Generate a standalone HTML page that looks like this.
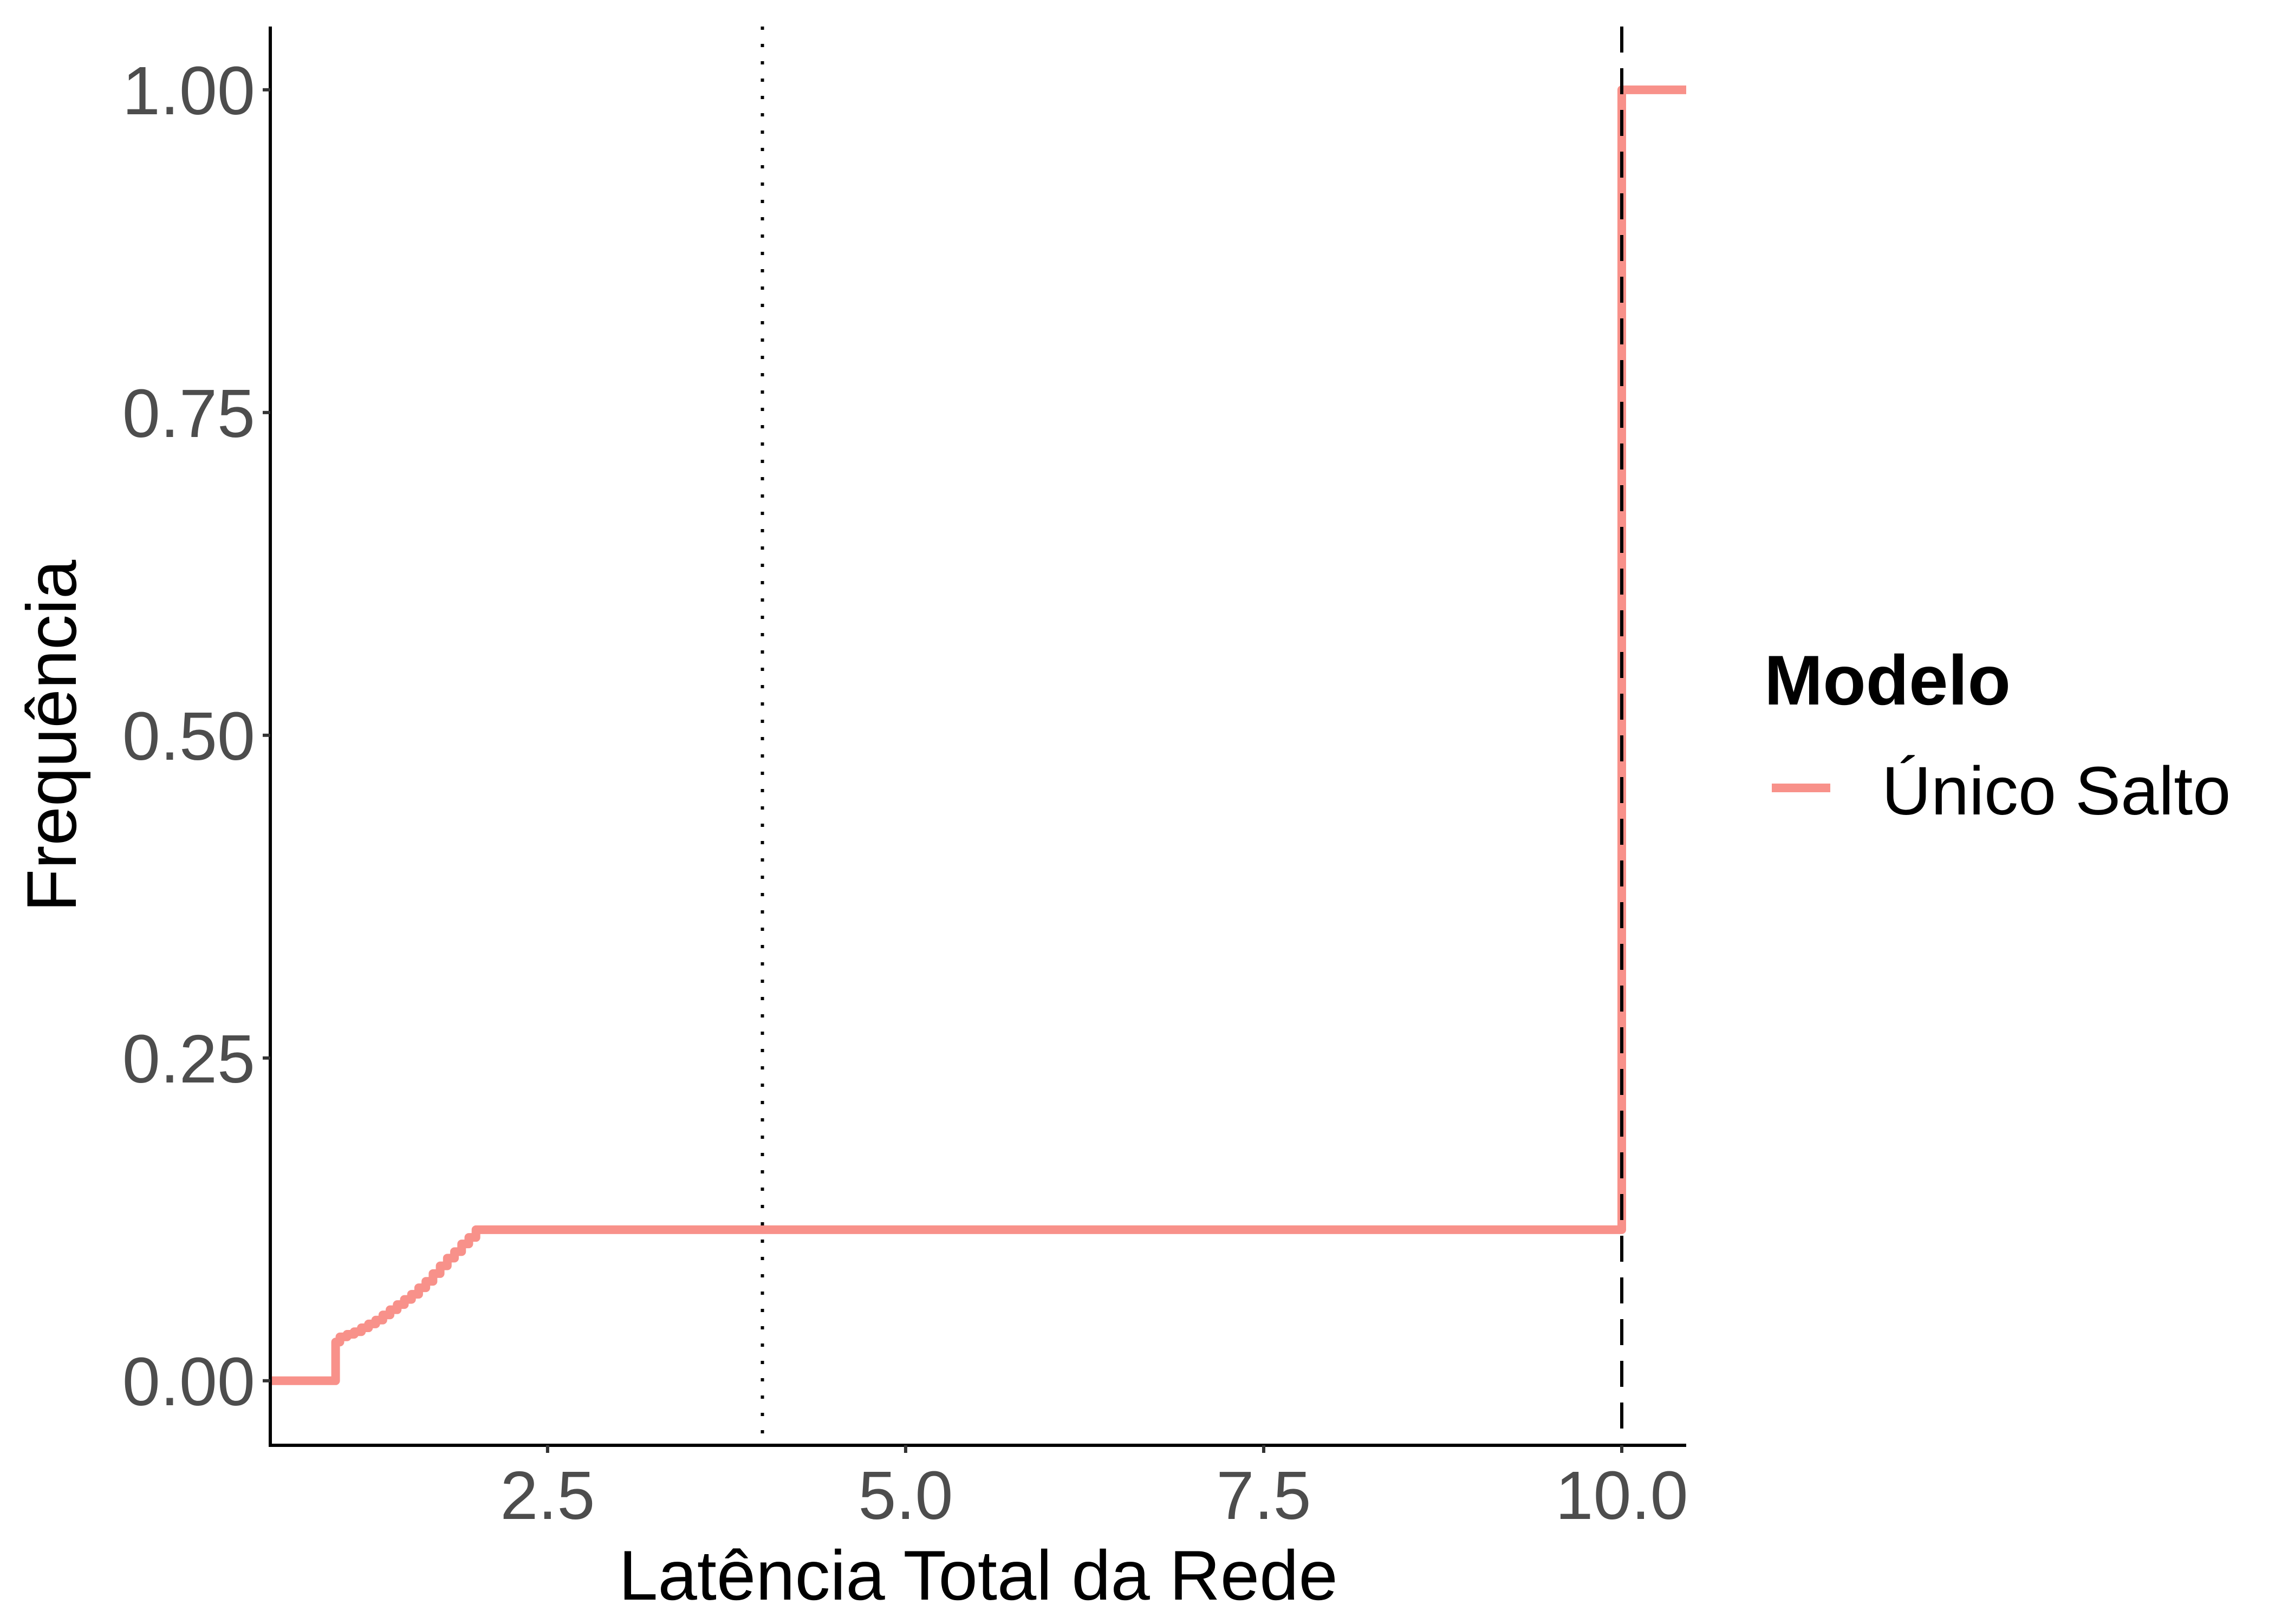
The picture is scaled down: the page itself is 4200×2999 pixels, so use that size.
<!DOCTYPE html>
<html><head><meta charset="utf-8"><style>
html,body{margin:0;padding:0;background:#fff;}
svg{display:block;font-family:"Liberation Sans",Arial,sans-serif;}
</style></head><body>
<svg id="chart" width="4200" height="2999" viewBox="0 0 4200 2999" xmlns="http://www.w3.org/2000/svg">
<rect x="0" y="0" width="4200" height="2999" fill="#fff"/>
<g id="plot"></g>
<text x="1806" y="2954" font-size="130" text-anchor="middle" fill="#000">Latência Total da Rede</text>
<text transform="translate(140,1359) rotate(-90)" font-size="130" text-anchor="middle" fill="#000">Frequência</text>
<text x="3257" y="1301" font-size="130" font-weight="bold" fill="#000">Modelo</text>
<line x1="3271" y1="1455" x2="3379" y2="1455" stroke="#F8918A" stroke-width="16"/>
<text x="3474" y="1504" font-size="126" fill="#000">Único Salto</text>
</svg>
<script>
const xs = [0.564, 1.02, 1.02, 1.05, 1.1, 1.15, 1.2, 1.25, 1.3, 1.35, 1.4, 1.45, 1.5, 1.55, 1.6, 1.65, 1.7, 1.75, 1.8, 1.85, 1.9, 1.95, 2.0, 10.0, 10.0, 10.45];
const ys = [0, 0, 0.03, 0.034, 0.036, 0.038, 0.041, 0.044, 0.047, 0.051, 0.055, 0.059, 0.063, 0.067, 0.072, 0.077, 0.083, 0.089, 0.095, 0.1, 0.106, 0.111, 0.117, 0.117, 1.0, 1.0];
const xTicks = [2.5, 5.0, 7.5, 10.0];
const xTickLabels = ["2.5", "5.0", "7.5", "10.0"];
const yTicks = [0, 0.25, 0.5, 0.75, 1.0];
const yTickLabels = ["0.00", "0.25", "0.50", "0.75", "1.00"];
const vDotted = [4.0];
const vDashed = [10.0];

const L=499,R=3113,T=49,B=2669;
const xmin=0.564,xmax=10.45,ymin=-0.05,ymax=1.049;
const sx=v=>L+(v-xmin)/(xmax-xmin)*(R-L);
const sy=v=>B-(v-ymin)/(ymax-ymin)*(B-T);
const NS="http://www.w3.org/2000/svg";
const g=document.getElementById('plot');
function mk(tag,attrs){const e=document.createElementNS(NS,tag);for(const k in attrs)e.setAttribute(k,attrs[k]);g.appendChild(e);return e;}

let d="";
for(let i=0;i<xs.length;i++){
  const px=sx(xs[i]),py=sy(ys[i]);
  if(i===0)d+="M"+px+","+py;
  else d+=" L"+sx(xs[i])+","+sy(ys[i-1])+" L"+px+","+py;
}
const p=mk('path',{d:d,fill:'none',stroke:'#F8918A','stroke-width':16,'stroke-linejoin':'round'});



vDotted.forEach(v=>{
  const l=mk('line',{x1:sx(v),x2:sx(v),y1:T,y2:B,stroke:'#000','stroke-width':6,'stroke-dasharray':'6 26'});
  
  
});
vDashed.forEach(v=>{
  const l=mk('line',{x1:sx(v),x2:sx(v),y1:T,y2:B,stroke:'#000','stroke-width':6,'stroke-dasharray':'48 29'});
  
  
});

const ax=mk('line',{x1:L,x2:L,y1:T,y2:B+3,stroke:'#000','stroke-width':6});


const bx=mk('line',{x1:L-3,x2:R,y1:B,y2:B,stroke:'#000','stroke-width':6});



yTicks.forEach((v,i)=>{
  const t=mk('line',{x1:L-14,x2:L,y1:sy(v),y2:sy(v),stroke:'#333','stroke-width':6});
  
  
  const tx=mk('text',{x:L-28,y:sy(v)+45,'font-size':126,'text-anchor':'end',fill:'#4d4d4d'});
  tx.textContent=yTickLabels[i];
  
  
});
xTicks.forEach((v,i)=>{
  const t=mk('line',{x1:sx(v),x2:sx(v),y1:B,y2:B+14,stroke:'#333','stroke-width':6});
  
  
  const tx=mk('text',{x:sx(v),y:2805,'font-size':126,'text-anchor':'middle',fill:'#4d4d4d'});
  tx.textContent=xTickLabels[i];
  
  
});
</script>
</body></html>
